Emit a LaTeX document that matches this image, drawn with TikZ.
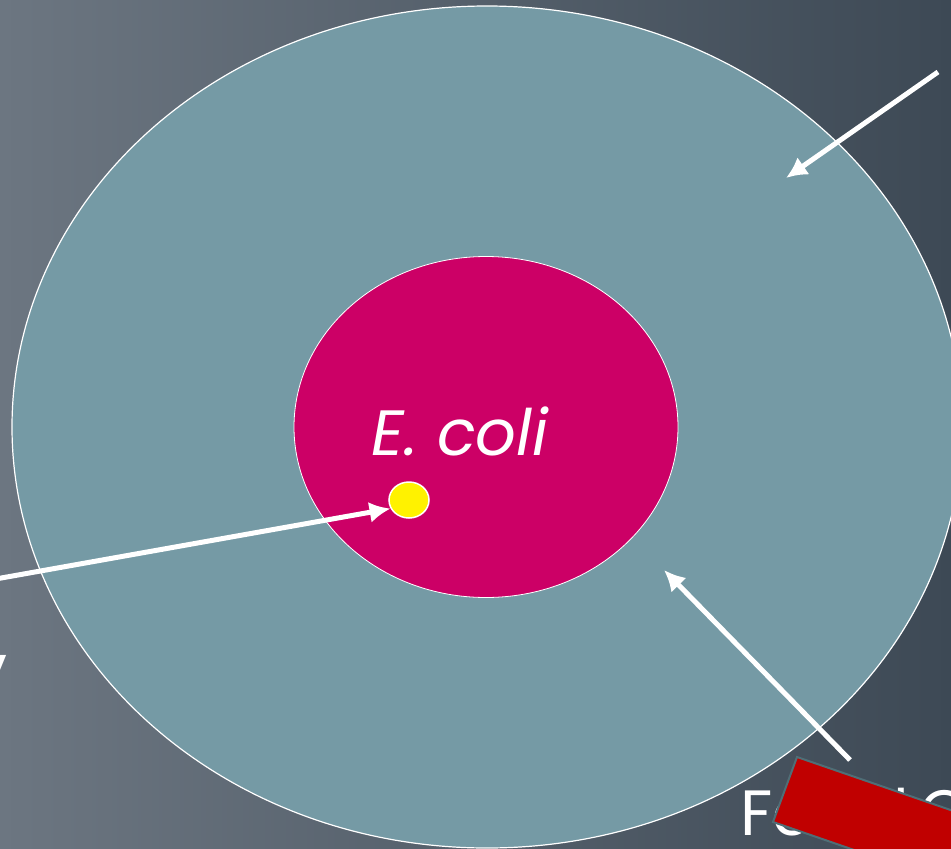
\documentclass[tikz,border=0pt]{standalone}
\usepackage{fontspec}
\setsansfont{Poppins}
\usetikzlibrary{shapes.geometric,positioning,arrows.meta}

\definecolor{bgleft}{HTML}{6C7681}
\definecolor{bgright}{HTML}{3D4955}
\definecolor{serum}{HTML}{759AA5}
\definecolor{cellpink}{HTML}{CC0066}
\definecolor{blockred}{HTML}{C00000}
\definecolor{blockedge}{HTML}{4F6E76}

\begin{document}
\begin{tikzpicture}[x=1pt, y=-1pt, >={Latex[length=21pt, width=21pt]},
    pointer/.style={->, white, line width=5pt},
    label/.style={font=\sffamily\fontsize{64}{70}\selectfont, text=white, inner sep=0pt}]

    % --- Cadre et fond degrade ---
    \useasboundingbox (0,0) rectangle (951,849);
    \shade[left color=bgleft, right color=bgright] (0,0) rectangle (951,849);

    % ==============================================================
    % 1. MILIEU EXTERIEUR ET BACTERIE
    % ==============================================================
    \node[ellipse, draw=white, line width=1.2pt, fill=serum, inner sep=0pt,
          minimum width=950pt, minimum height=842pt] (milieu) at (487,427) {};

    \node[ellipse, draw=white, line width=0.8pt, fill=cellpink, inner sep=0pt,
          minimum width=384pt, minimum height=341pt] (ecoli) at (486,427) {};

    % Nom de la bacterie
    \node[label, font=\sffamily\itshape\fontsize{64}{70}\selectfont, anchor=base]
        (nom) at (460,455) {E. coli};

    % Petite cible jaune
    \node[ellipse, draw=white, line width=1.5pt, fill=yellow, inner sep=0pt,
          minimum width=40pt, minimum height=36pt] (cible) at (409,500) {};

    % ==============================================================
    % 2. FLECHES
    % ==============================================================
    \coordinate (srcA) at (-10,580);   % entree a gauche
    \coordinate (srcB) at (938,72);    % haut droite
    \coordinate (endB) at (786,178);
    \coordinate (srcC) at (850,760);   % bas droite
    \coordinate (endC) at (664,570);

    \draw[pointer] (srcA) -- (cible.205);
    \draw[pointer] (srcB) -- (endB);
    \draw[pointer] (srcC) -- (endC);

    % ==============================================================
    % 3. TEXTES COUPES ET BLOC ROUGE
    % ==============================================================
    \node[label, anchor=base east] (bord) at (8,690) {y};
    \node[label, anchor=base west] (bas) at (740,835) {Fc\hspace{82pt}l\hspace{10pt}C};

    \filldraw[fill=blockred, draw=blockedge, line width=2pt]
        (797,757) -- (1081,855) -- (1057,920) -- (773,822) -- cycle;
\end{tikzpicture}
\end{document}
